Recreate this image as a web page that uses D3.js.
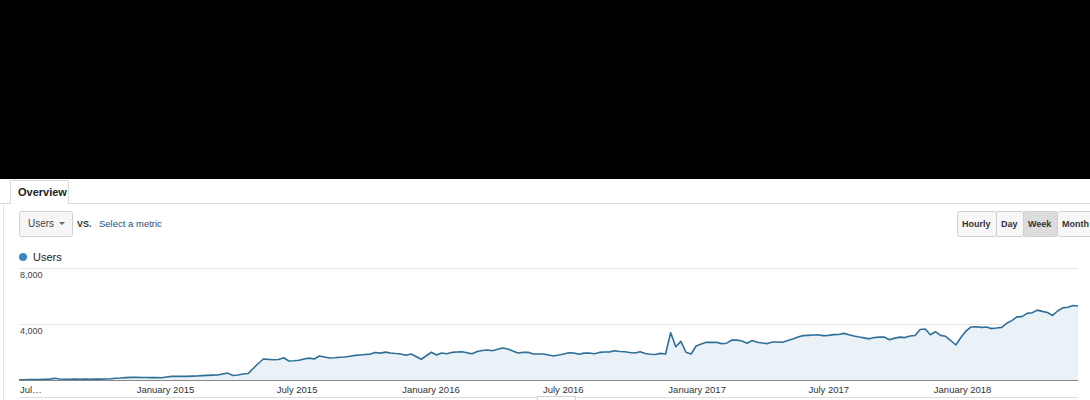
<!DOCTYPE html>
<html>
<head>
<meta charset="utf-8">
<script src="https://cdn.jsdelivr.net/npm/d3@7"></script>
<style>
  body { margin: 0; background: #fff; }
  svg { display: block; font-family: "Liberation Sans", Arial, sans-serif; }
</style>
</head>
<body>
<svg id="chart" width="1090" height="400"></svg>
<script>
// weekly users, first week starts 15 Jun 2014
var weekStart = "2014-06-15";
var users = [
  20, 20, 30, 40, 40, 50, 60, 120, 70, 50,
  50, 60, 50, 60, 50, 60, 60, 70, 90, 120,
  140, 170, 190, 190, 180, 180, 170, 170, 160, 210,
  260, 260, 270, 260, 280, 290, 310, 330, 350, 360,
  430, 490, 320, 360, 430, 460, 820, 1180, 1500, 1470,
  1450, 1460, 1590, 1360, 1380, 1410, 1500, 1560, 1500, 1710,
  1640, 1570, 1590, 1620, 1640, 1700, 1760, 1790, 1820, 1850,
  1960, 1920, 1990, 1930, 1890, 1860, 1770, 1860, 1680, 1480,
  1730, 1980, 1790, 1930, 1880, 1970, 2000, 2020, 1940, 1880,
  2040, 2110, 2140, 2090, 2190, 2290, 2210, 2070, 1930, 1970,
  1980, 1860, 1860, 1860, 1790, 1710, 1780, 1860, 1950, 1930,
  1840, 1920, 1930, 1880, 1970, 2000, 2010, 2090, 2040, 2020,
  1960, 1930, 2020, 1890, 1840, 1820, 1900, 1860, 3380, 2380,
  2760, 1980, 1860, 2430, 2570, 2690, 2690, 2690, 2600, 2630,
  2860, 2850, 2780, 2630, 2820, 2700, 2640, 2600, 2710, 2710,
  2700, 2820, 2930, 3070, 3170, 3190, 3210, 3220, 3170, 3190,
  3240, 3250, 3330, 3230, 3140, 3070, 3010, 2940, 3030, 3070,
  3060, 2880, 2990, 3060, 3030, 3140, 3180, 3610, 3640, 3230,
  3450, 3190, 3120, 2820, 2500, 3040, 3500, 3790, 3800, 3760,
  3790, 3670, 3710, 3760, 4050, 4240, 4510, 4530, 4760, 4800,
  4990, 4900, 4820, 4610, 4930, 5150, 5200, 5320, 5290
];
var tickDates = ["2014-07-01", "2015-01-01", "2015-07-01", "2016-01-01", "2016-07-01", "2017-01-01", "2017-07-01", "2018-01-01"];
var tickLabels = ["Jul…", "January 2015", "July 2015", "January 2016", "July 2016", "January 2017", "July 2017", "January 2018"];
var yTicks = [4000, 8000];
var periodButtons = ["Hourly", "Day", "Week", "Month"];

var svg = d3.select("#chart");
var parse = d3.timeParse("%Y-%m-%d");
var start = parse(weekStart);

var data = users.map(function(v, i) {
  return { date: d3.timeDay.offset(start, i * 7), value: v };
});

var x = d3.scaleTime()
  .domain(d3.extent(data, function(d) { return d.date; }))
  .range([19, 1078]);
var y = d3.scaleLinear().domain([0, 8000]).range([380, 268]);

// black band on top of the screenshot
svg.append("rect").attr("x", 0).attr("y", 0).attr("width", 1090).attr("height", 179).attr("fill", "#000");

// tab strip
svg.append("line").attr("x1", 0).attr("x2", 1090).attr("y1", 203.5).attr("y2", 203.5).attr("stroke", "#d9d9d9");
svg.append("path")
  .attr("d", "M10.5,204 V180.5 H68.5 V204")
  .attr("fill", "#fff").attr("stroke", "#d9d9d9");
svg.append("rect").attr("x", 11).attr("y", 201).attr("width", 57).attr("height", 4).attr("fill", "#fff");
svg.append("text").attr("x", 18).attr("y", 196)
  .attr("font-size", 11).attr("font-weight", "bold").attr("fill", "#222").text("Overview");
svg.append("line").attr("x1", 3.5).attr("x2", 3.5).attr("y1", 204).attr("y2", 400).attr("stroke", "#e6e6e6");

// metric selector
svg.append("rect").attr("x", 19.5).attr("y", 211.5).attr("width", 53).attr("height", 25).attr("rx", 2)
  .attr("fill", "#f6f6f6").attr("stroke", "#d0d0d0");
svg.append("text").attr("x", 28).attr("y", 227).attr("font-size", 10).attr("fill", "#444").text("Users");
svg.append("path").attr("d", "M59,222 h6 l-3,3 z").attr("fill", "#666");
svg.append("text").attr("x", 77).attr("y", 227).attr("font-size", 9).attr("font-weight", "bold").attr("fill", "#333").text("VS.");
svg.append("text").attr("x", 99).attr("y", 227).attr("font-size", 9.5).attr("fill", "#1f4e79").text("Select a metric");

// period buttons
var btnX = [957, 996, 1023, 1057, 1100];
var btnText = [962, 1001, 1028, 1062];
var btns = svg.append("g");
periodButtons.forEach(function(label, i) {
  btns.append("rect")
    .attr("x", btnX[i] + 0.5).attr("y", 211.5)
    .attr("width", btnX[i + 1] - btnX[i]).attr("height", 25).attr("rx", 2)
    .attr("fill", label == "Week" ? "#dcdcdc" : "#f7f7f7")
    .attr("stroke", "#cfcfcf");
  btns.append("text")
    .attr("x", btnText[i]).attr("y", 227)
    .attr("font-size", 9).attr("font-weight", "bold").attr("fill", "#333")
    .text(label);
});

// legend
svg.append("circle").attr("cx", 23).attr("cy", 257).attr("r", 4).attr("fill", "#3b86c0");
svg.append("text").attr("x", 33).attr("y", 261).attr("font-size", 11).attr("fill", "#222").text("Users");

// grid + y labels
yTicks.forEach(function(t) {
  svg.append("line")
    .attr("x1", 19).attr("x2", 1078)
    .attr("y1", Math.round(y(t)) + 0.5).attr("y2", Math.round(y(t)) + 0.5)
    .attr("stroke", "#e4e4e4");
  svg.append("text")
    .attr("x", 20).attr("y", y(t) + 10)
    .attr("font-size", 9).attr("fill", "#444")
    .text(d3.format(",")(t));
});

// area + line
var area = d3.area()
  .x(function(d) { return x(d.date); })
  .y0(y(0))
  .y1(function(d) { return y(d.value); });
var line = d3.line()
  .x(function(d) { return x(d.date); })
  .y(function(d) { return y(d.value); });

svg.append("path").datum(data).attr("d", area).attr("fill", "#eaf2f8");
svg.append("path").datum(data).attr("d", line)
  .attr("fill", "none").attr("stroke", "#2f6f98").attr("stroke-width", 1.6)
  .attr("stroke-linejoin", "round");

// baseline
svg.append("line").attr("x1", 19).attr("x2", 1078).attr("y1", 380.5).attr("y2", 380.5)
  .attr("stroke", "#888");

// x labels
tickDates.forEach(function(s, i) {
  var px = x(parse(s));
  var first = i == 0;
  svg.append("text")
    .attr("x", first ? 20 : px + 1)
    .attr("y", 393)
    .attr("text-anchor", first ? "start" : "middle")
    .attr("font-size", 9.5).attr("fill", "#333")
    .text(tickLabels[i]);
});

// bottom scroll strip
svg.append("line").attr("x1", 19).attr("x2", 1078).attr("y1", 397.5).attr("y2", 397.5).attr("stroke", "#dcdcdc");
svg.append("rect").attr("x", 537.5).attr("y", 396.5).attr("width", 38).attr("height", 6)
  .attr("fill", "#fff").attr("stroke", "#cfcfcf");
</script>
</body>
</html>
